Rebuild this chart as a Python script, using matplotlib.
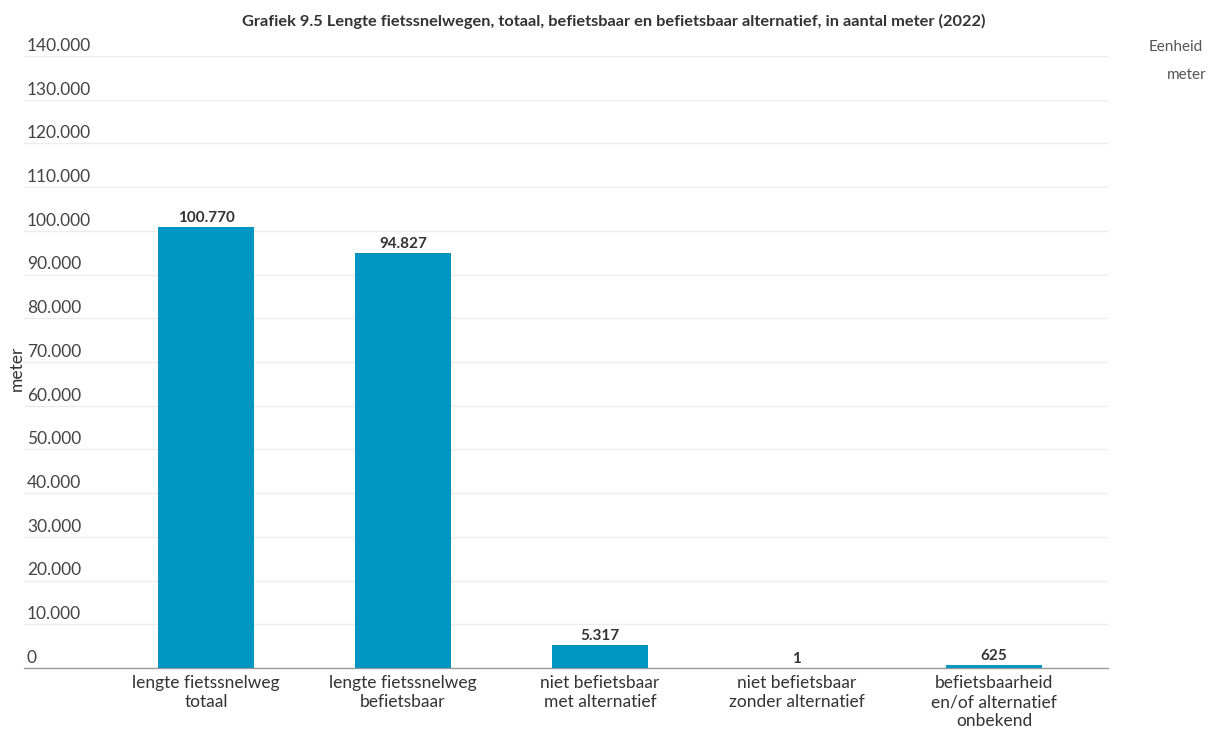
import matplotlib
matplotlib.use("Agg")
import matplotlib.pyplot as plt
import matplotlib.transforms as mtransforms

categories = ["lengte fietssnelweg\ntotaal", "lengte fietssnelweg\nbefietsbaar",
              "niet befietsbaar\nmet alternatief", "niet befietsbaar\nzonder alternatief",
              "befietsbaarheid\nen/of alternatief\nonbekend"]
values = [100770, 94827, 5317, 1, 625]
value_labels = ["100.770", "94.827", "5.317", "1", "625"]
yticks = list(range(0, 140001, 10000))
ytick_labels = ["0"] + [f"{v//1000}.000" for v in yticks[1:]]

title = "Grafiek 9.5 Lengte fietssnelwegen, totaal, befietsbaar en befietsbaar alternatief, in aantal meter (2022)"

plt.rcParams['font.family'] = ['Lato', 'DejaVu Sans']

W, H = 1214, 729
fig = plt.figure(figsize=(W/100, H/100), dpi=100)
ax = fig.add_axes([24/W, 61/H, (1108-24)/W, (668-56)/H])

bar_color = "#0096c1"
x = list(range(len(categories)))
ax.bar(x, values, width=0.49, color=bar_color, zorder=3)
ax.set_xlim(-0.924, 4.579)
ax.set_ylim(0, 140000)

for spine in ["top", "right", "left"]:
    ax.spines[spine].set_visible(False)
ax.spines["bottom"].set_color("#999999")
ax.spines["bottom"].set_linewidth(1)

ax.set_yticks(yticks)
ax.set_yticklabels([])
ax.tick_params(axis="y", length=0)
ax.grid(axis="y", color="#ececec", linewidth=1, zorder=0)

ax.set_xticks(x)
ax.set_xticklabels(categories, fontsize=12.5, color="#333333", linespacing=1.25)
ax.tick_params(axis="x", length=0, pad=5)

ytrans = mtransforms.blended_transform_factory(ax.transAxes, ax.transData)
for v, lab in zip(yticks, ytick_labels):
    t = mtransforms.offset_copy(ytrans, fig=fig, x=0, y=1.5, units="points")
    ax.text(3/1084, v, lab, transform=t, ha="left", va="bottom",
            fontsize=12.5, color="#444444")

for xi, v, lab in zip(x, values, value_labels):
    t = mtransforms.offset_copy(ax.transData, fig=fig, x=0, y=1.5, units="points")
    ax.text(xi, v, lab, transform=t, ha="center", va="bottom",
            fontsize=11, fontweight="bold", color="#333333", zorder=4)

fig.text(614/W, 1 - 21/H, title, ha="center", va="center",
         fontsize=11.8, fontweight="bold", color="#333333")
fig.text(17/W, 1 - 368/H, "meter", rotation=90, ha="center", va="center",
         fontsize=12.5, color="#333333")
fig.text(1203/W, 1 - 47/H, "Eenheid", ha="right", va="center",
         fontsize=11, color="#555555")
fig.text(1206/W, 1 - 75/H, "meter", ha="right", va="center",
         fontsize=11, color="#555555")

fig.savefig("out.png", dpi=100, facecolor="white")
